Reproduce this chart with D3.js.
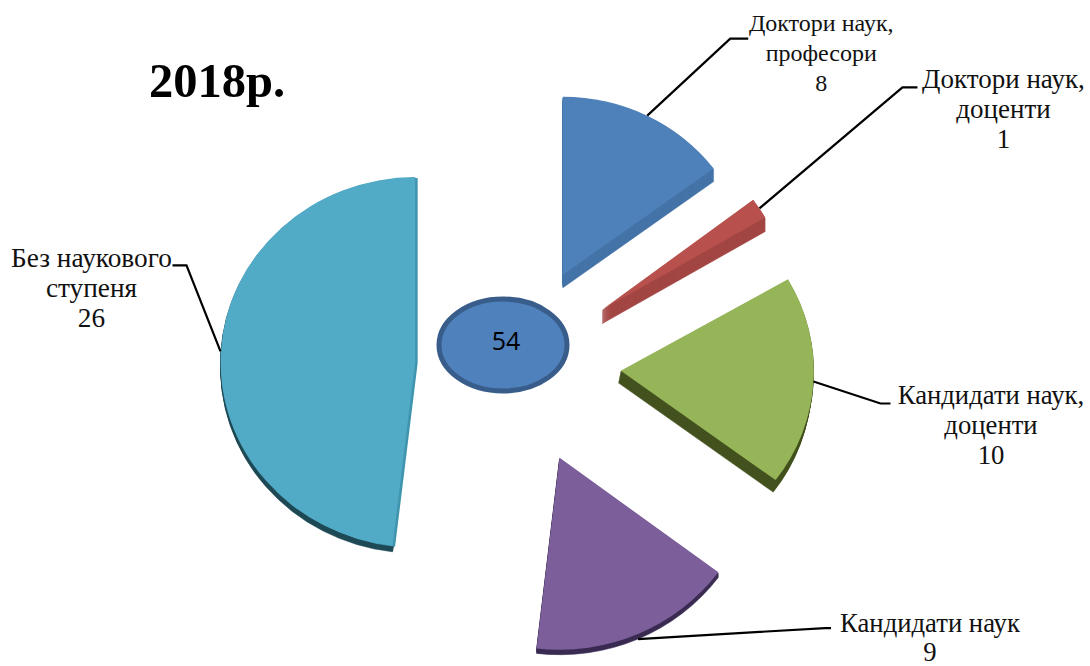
<!DOCTYPE html>
<html><head><meta charset="utf-8">
<style>html,body{margin:0;padding:0;background:#fff}svg{display:block}</style>
<script src="https://cdn.jsdelivr.net/npm/d3@7/dist/d3.min.js"></script>
</head><body><svg id="c" width="1090" height="666"></svg>
<script>
const categories=[["Доктори наук,","професори"],["Доктори наук,","доценти"],["Кандидати наук,","доценти"],["Кандидати наук"],["Без наукового","ступеня"]];
const values=[8,1,10,9,26];
const titleText="2018р.";
const faceColors=["#4e80b9","#b8504d","#95b558","#7c5f9a","#52abc6"];
const sideColors=["#4574a8","#a34744","#43521f","#3a2b52","#1f4a56"];
// perspective: radii, thickness and explosion of each slice
const radX=[188,188,193,198,195], radY=[178,184,183,192,185], depth=[13,14,12,5,6];
const sideSlant=[0,0,-0.2,0,0];
const explodeX=[100,101,103,105,103], explodeY=[101,101,101,101,50];
// leader: elbow offset from slice edge, end run, label anchor offset from the elbow end
const leaders=[[83,-77,18,73,-16],[143,-121,15,86,-7],[67,22,10,100.5,-7.5],[187,-11,6,99,-4],[-34,-86,-14,-81,-6]];
const labelSize=[24,27,26.7,26.7,27.3];
const lineGap=[30,30,30,29,30];

const svg=d3.select("#c");
const cx=518,cy=365;
const pie=d3.pie().sort(null).value(d=>d);
const arcs=pie(values);
const unit=d3.arc().innerRadius(0).outerRadius(1);
const mid=d=>(d.startAngle+d.endAngle)/2;
const gChart=svg.append("g");

arcs.forEach((d,i)=>{
  const ax=cx+explodeX[i]*Math.sin(mid(d)), ay=cy-explodeY[i]*Math.cos(mid(d));
  const g=gChart.append("g");
  const place=(dx,dy)=>`translate(${ax+dx},${ay+dy}) scale(${radX[i]},${radY[i]})`;
  d3.range(depth[i],0,-1).forEach(k=>{
    g.append("path").attr("d",unit(d)).attr("transform",place(k*sideSlant[i],k)).attr("fill",sideColors[i])
      .attr("stroke",sideColors[i]).attr("stroke-width",0.6).attr("vector-effect","non-scaling-stroke");
  });
  if(i===4) g.append("path").attr("d",unit(d)).attr("transform",place(2.5,1)).attr("fill","#3f94ae");
  g.append("path").attr("d",unit(d)).attr("transform",place(0,0)).attr("fill",faceColors[i]);

  const sx=ax+radX[i]*Math.sin(mid(d)), sy=ay-radY[i]*Math.cos(mid(d))+(i===3?depth[i]:0);
  const L=leaders[i];
  const pts=[[sx,sy],[sx+L[0],sy+L[1]],[sx+L[0]+L[2],sy+L[1]]];
  svg.append("path").attr("d",d3.line()(pts)).attr("fill","none").attr("stroke","#000").attr("stroke-width",2.2);

  const tx=sx+L[0]+L[2]+L[3], ty=sy+L[1]+L[4];
  const t=svg.append("text").attr("text-anchor","middle").attr("font-family","'Liberation Serif',serif").attr("font-size",labelSize[i]).attr("fill","#111");
  categories[i].concat([String(values[i])]).forEach((s,j)=>{
    t.append("tspan").attr("x",tx).attr("y",ty+j*lineGap[i]+8).text(s);
  });
});

svg.append("ellipse").attr("cx",503).attr("cy",345).attr("rx",64).attr("ry",46).attr("fill","#4f81bd").attr("stroke","#385d8a").attr("stroke-width",5);
svg.append("text").attr("x",506).attr("y",350).attr("text-anchor","middle").attr("font-family","'Open Sans',sans-serif").attr("font-size",25).attr("fill","#000").text(d3.sum(values));
svg.append("text").attr("x",149).attr("y",97).attr("font-family","'Liberation Serif',serif").attr("font-weight","bold").attr("font-size",48.5).attr("fill","#000").text(titleText);
</script></body></html>
